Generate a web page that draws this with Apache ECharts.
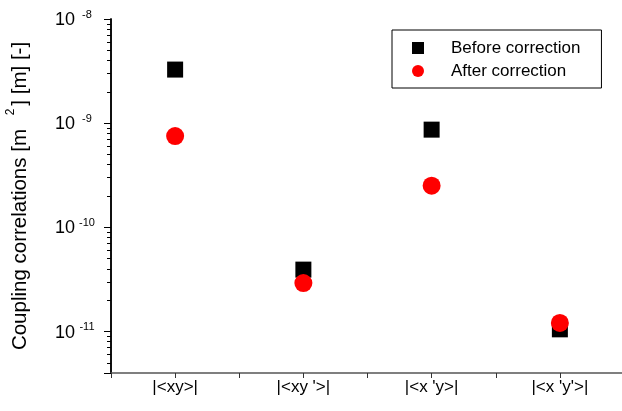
<!DOCTYPE html>
<html>
<head>
<meta charset="utf-8">
<script src="https://cdn.jsdelivr.net/npm/echarts@6/dist/echarts.min.js"></script>
<style>
  html, body { margin: 0; padding: 0; background: #fff; }
  #chart { width: 622px; height: 411px; }
</style>
</head>
<body>
<div id="chart"></div>
<script>
// Coupling terms on the horizontal axis
const categories = ['|<xy>|', "|<xy '>|", "|<x 'y>|", "|<x 'y'>|"];
// Measured coupling correlations
const beforeCorrection = [3.27e-9, 3.93e-11, 8.67e-10, 1.05e-11];
const afterCorrection = [7.53e-10, 2.92e-11, 2.51e-10, 1.21e-11];
const seriesNames = ['Before correction', 'After correction'];
// Logarithmic value range and minor tick layout
const yMin = 4e-12;
const yMax = 1e-8;
const minorMultipliers = [2, 3, 4, 5, 6, 7, 8, 9];
const minorDecades = [1e-12, 1e-11, 1e-10, 1e-9];

const FONT = "'Liberation Sans', Arial, Helvetica, sans-serif";

// Minor tick positions in log10 units for the helper axis
const minorLogValues = [];
minorDecades.forEach(d => minorMultipliers.forEach(m => {
  const v = m * d;
  if (v > yMin * 1.001 && v < yMax * 0.999) minorLogValues.push(Math.log10(v));
}));

const toPoints = vals => vals.map((v, i) => [i + 1, v]);

const CHART_W = 622;
const GRID_LEFT = 111;
const GRID_RIGHT = -2;
const plotWidth = CHART_W - GRID_LEFT - GRID_RIGHT;

const chart = echarts.init(document.getElementById('chart'));
chart.setOption({
  animation: false,
  backgroundColor: '#fff',
  grid: { left: GRID_LEFT, top: 19, right: GRID_RIGHT, bottom: 38, outerBoundsMode: 'none' },
  legend: {
    orient: 'vertical',
    left: 392,
    top: 30,
    padding: [9, 21, 8, 20],
    itemWidth: 12,
    itemHeight: 12,
    itemGap: 5,
    borderColor: '#000',
    borderWidth: 1,
    borderRadius: 0,
    backgroundColor: '#fff',
    selectedMode: false,
    data: seriesNames,
    formatter: name => '{g|}' + name,
    textStyle: {
      fontFamily: FONT, fontSize: 17, color: '#000', lineHeight: 18,
      rich: { g: { width: 22 } }
    }
  },
  xAxis: {
    type: 'value',
    min: 0.5,
    max: 4.5,
    interval: 0.5,
    splitLine: { show: false },
    axisLine: { onZero: false, lineStyle: { color: '#555', width: 1.5 } },
    axisTick: { length: 5, lineStyle: { color: '#333' } },
    axisLabel: {
      margin: 6,
      fontFamily: FONT,
      fontSize: 17,
      color: '#000',
      showMinLabel: true,
      showMaxLabel: true,
      formatter: v => (Number.isInteger(v) && categories[v - 1]) ? categories[v - 1] : ''
    }
  },
  yAxis: [
    {
      type: 'log',
      min: yMin,
      max: yMax,
      splitLine: { show: true, lineStyle: { color: 'rgba(0,0,0,0)' } },
      axisLine: { show: true, lineStyle: { color: '#000', width: 1.5 } },
      axisTick: { show: true, length: 7, lineStyle: { color: '#000' } },
      minorTick: { show: true, splitNumber: 9, length: 4, lineStyle: { color: '#000' } },
      axisLabel: {
        margin: 16,
        color: '#000',
        fontFamily: FONT,
        formatter: v => {
          const e = Math.log10(v);
          const r = Math.round(e);
          if (Math.abs(e - r) > 1e-6) return '';
          return '{b|10}{s|' + r + '}';
        },
        rich: {
          b: { fontFamily: FONT, fontSize: 18, lineHeight: 20, padding: [4, 0, 0, 0], verticalAlign: 'bottom', color: '#000' },
          s: { fontFamily: FONT, fontSize: 11, lineHeight: 12, width: 16, padding: [0, 0, 0, 4], verticalAlign: 'top', align: 'left', color: '#000' }
        }
      },
      name: '{a|Coupling correlations [m }{s|2}{a|] [m] [-]}',
      nameLocation: 'middle',
      nameRotate: 90,
      nameGap: 80,
      nameTextStyle: {
        rich: {
          a: { fontFamily: FONT, fontSize: 20.5, lineHeight: 26, verticalAlign: 'bottom', color: '#000' },
          s: { fontFamily: FONT, fontSize: 12, lineHeight: 14, padding: [0, 3, 0, 8], verticalAlign: 'top', color: '#000' }
        }
      }
    },
    {
      // helper axis carrying the minor ticks, shifted onto the left edge
      type: 'value',
      min: Math.log10(yMin),
      max: Math.log10(yMax),
      position: 'right',
      offset: -plotWidth,
      splitLine: { show: false },
      axisLine: { show: true, lineStyle: { color: '#000', width: 1.5 } },
      axisLabel: { show: true, customValues: minorLogValues, formatter: () => '' },
      axisTick: { show: true, inside: true, length: 4, customValues: minorLogValues, lineStyle: { color: '#000' } }
    }
  ],
  series: [
    {
      name: seriesNames[0],
      type: 'scatter',
      yAxisIndex: 0,
      symbol: 'rect',
      symbolSize: 16,
      itemStyle: { color: '#000', opacity: 1 },
      data: toPoints(beforeCorrection),
      z: 2
    },
    {
      name: seriesNames[1],
      type: 'scatter',
      yAxisIndex: 0,
      symbol: 'circle',
      symbolSize: 18,
      itemStyle: { color: '#ff0000', opacity: 1 },
      data: toPoints(afterCorrection),
      z: 3
    }
  ]
});
</script>
</body>
</html>
